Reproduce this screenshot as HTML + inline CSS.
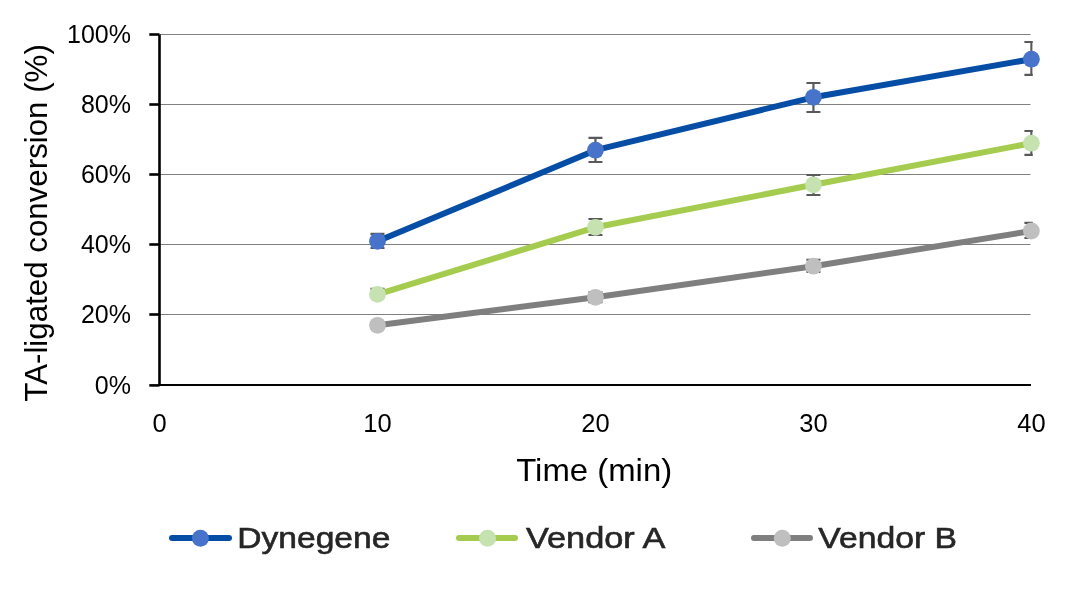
<!DOCTYPE html>
<html><head><meta charset="utf-8"><style>
html,body{margin:0;padding:0;background:#fff;width:1070px;height:605px;overflow:hidden}
svg{display:block;will-change:transform}
text{font-family:"Liberation Sans",sans-serif}
</style></head><body>
<svg width="1070" height="605" viewBox="0 0 1070 605">
<rect width="1070" height="605" fill="#fff"/>
<line x1="160" y1="314.50" x2="1030.5" y2="314.50" stroke="#808080" stroke-width="1.1"/>
<line x1="160" y1="244.50" x2="1030.5" y2="244.50" stroke="#808080" stroke-width="1.1"/>
<line x1="160" y1="174.50" x2="1030.5" y2="174.50" stroke="#808080" stroke-width="1.1"/>
<line x1="160" y1="104.50" x2="1030.5" y2="104.50" stroke="#808080" stroke-width="1.1"/>
<line x1="160" y1="34.50" x2="1030.5" y2="34.50" stroke="#808080" stroke-width="1.1"/>
<line x1="159.5" y1="34.5" x2="159.5" y2="386.1" stroke="#000" stroke-width="2.6"/>
<line x1="158" y1="385" x2="1031" y2="385" stroke="#000" stroke-width="2.2"/>
<line x1="149.3" y1="385.40" x2="159.5" y2="385.40" stroke="#000" stroke-width="2.6"/>
<line x1="149.3" y1="314.50" x2="159.5" y2="314.50" stroke="#000" stroke-width="2.6"/>
<line x1="149.3" y1="244.50" x2="159.5" y2="244.50" stroke="#000" stroke-width="2.6"/>
<line x1="149.3" y1="174.50" x2="159.5" y2="174.50" stroke="#000" stroke-width="2.6"/>
<line x1="149.3" y1="104.50" x2="159.5" y2="104.50" stroke="#000" stroke-width="2.6"/>
<line x1="149.3" y1="34.50" x2="159.5" y2="34.50" stroke="#000" stroke-width="2.6"/>
<text x="131" y="393.80" font-size="25" text-anchor="end" fill="#000">0%</text>
<text x="131" y="322.70" font-size="25" text-anchor="end" fill="#000">20%</text>
<text x="131" y="252.70" font-size="25" text-anchor="end" fill="#000">40%</text>
<text x="131" y="182.70" font-size="25" text-anchor="end" fill="#000">60%</text>
<text x="131" y="112.70" font-size="25" text-anchor="end" fill="#000">80%</text>
<text x="131" y="42.70" font-size="25" text-anchor="end" fill="#000">100%</text>
<text x="159.50" y="431.8" font-size="25.5" text-anchor="middle" fill="#000">0</text>
<text x="377.48" y="431.8" font-size="25.5" text-anchor="middle" fill="#000">10</text>
<text x="595.45" y="431.8" font-size="25.5" text-anchor="middle" fill="#000">20</text>
<text x="813.43" y="431.8" font-size="25.5" text-anchor="middle" fill="#000">30</text>
<text x="1031.40" y="431.8" font-size="25.5" text-anchor="middle" fill="#000">40</text>
<text x="594.2" y="480.6" font-size="30.5" text-anchor="middle" fill="#000" textLength="156" lengthAdjust="spacingAndGlyphs">Time (min)</text>
<text transform="translate(47.0,222.9) rotate(-90)" x="0" y="0" font-size="30.5" text-anchor="middle" fill="#000" textLength="357.5" lengthAdjust="spacingAndGlyphs">TA-ligated conversion (%)</text>
<defs><clipPath id="pc"><rect x="160" y="0" width="872.8" height="400"/></clipPath></defs>
<path clip-path="url(#pc)" d="M377.48 233.90V248.00M370.48 233.90H384.48M370.48 248.00H384.48M595.45 137.90V162.00M588.45 137.90H602.45M588.45 162.00H602.45M813.43 83.00V112.00M806.43 83.00H820.43M806.43 112.00H820.43M1031.40 42.00V74.80M1024.40 42.00H1038.40M1024.40 74.80H1038.40" stroke="#595959" stroke-width="2.2" fill="none"/>
<path clip-path="url(#pc)" d="M377.48 288.80V297.50M370.48 288.80H384.48M370.48 297.50H384.48M595.45 219.00V235.00M588.45 219.00H602.45M588.45 235.00H602.45M813.43 175.00V195.00M806.43 175.00H820.43M806.43 195.00H820.43M1031.40 131.00V154.90M1024.40 131.00H1038.40M1024.40 154.90H1038.40" stroke="#595959" stroke-width="2.2" fill="none"/>
<path clip-path="url(#pc)" d="M377.48 322.00V328.50M370.48 322.00H384.48M370.48 328.50H384.48M595.45 292.30V302.20M588.45 292.30H602.45M588.45 302.20H602.45M813.43 259.80V271.80M806.43 259.80H820.43M806.43 271.80H820.43M1031.40 222.80V238.00M1024.40 222.80H1038.40M1024.40 238.00H1038.40" stroke="#595959" stroke-width="2.2" fill="none"/>
<path d="M377.48 241.30 L595.45 150.20 L813.43 97.30 L1031.40 59.20" stroke="#064da6" stroke-width="6.0" fill="none" stroke-linejoin="round" stroke-linecap="round"/>
<circle cx="377.48" cy="241.30" r="8.4" fill="#4773ca"/>
<circle cx="595.45" cy="150.20" r="8.4" fill="#4773ca"/>
<circle cx="813.43" cy="97.30" r="8.4" fill="#4773ca"/>
<circle cx="1031.40" cy="59.20" r="8.4" fill="#4773ca"/>
<path d="M377.48 294.40 L595.45 227.30 L813.43 184.80 L1031.40 143.20" stroke="#a5cc4e" stroke-width="6.0" fill="none" stroke-linejoin="round" stroke-linecap="round"/>
<circle cx="377.48" cy="294.40" r="8.4" fill="#c6e2b1"/>
<circle cx="595.45" cy="227.30" r="8.4" fill="#c6e2b1"/>
<circle cx="813.43" cy="184.80" r="8.4" fill="#c6e2b1"/>
<circle cx="1031.40" cy="143.20" r="8.4" fill="#c6e2b1"/>
<path d="M377.48 325.30 L595.45 297.30 L813.43 266.20 L1031.40 231.00" stroke="#7f7f7f" stroke-width="6.0" fill="none" stroke-linejoin="round" stroke-linecap="round"/>
<circle cx="377.48" cy="325.30" r="8.4" fill="#bfbfbf"/>
<circle cx="595.45" cy="297.30" r="8.4" fill="#bfbfbf"/>
<circle cx="813.43" cy="266.20" r="8.4" fill="#bfbfbf"/>
<circle cx="1031.40" cy="231.00" r="8.4" fill="#bfbfbf"/>
<line x1="172" y1="537.9" x2="229" y2="537.9" stroke="#064da6" stroke-width="6" stroke-linecap="round"/>
<circle cx="200.4" cy="538.3" r="8.5" fill="#4773ca"/>
<text x="237.2" y="548.2" font-size="29.5" fill="#262626" stroke="#262626" stroke-width="0.6" textLength="153.2" lengthAdjust="spacingAndGlyphs">Dynegene</text>
<line x1="459" y1="537.9" x2="515" y2="537.9" stroke="#a5cc4e" stroke-width="6" stroke-linecap="round"/>
<circle cx="487.5" cy="538.3" r="8.5" fill="#c6e2b1"/>
<text x="526" y="548.2" font-size="29.5" fill="#262626" stroke="#262626" stroke-width="0.6" textLength="139.3" lengthAdjust="spacingAndGlyphs">Vendor A</text>
<line x1="754" y1="537.9" x2="810" y2="537.9" stroke="#7f7f7f" stroke-width="6" stroke-linecap="round"/>
<circle cx="782.3" cy="538.3" r="8.5" fill="#bfbfbf"/>
<text x="818.3" y="548.2" font-size="29.5" fill="#262626" stroke="#262626" stroke-width="0.6" textLength="138.7" lengthAdjust="spacingAndGlyphs">Vendor B</text>
</svg>
</body></html>
